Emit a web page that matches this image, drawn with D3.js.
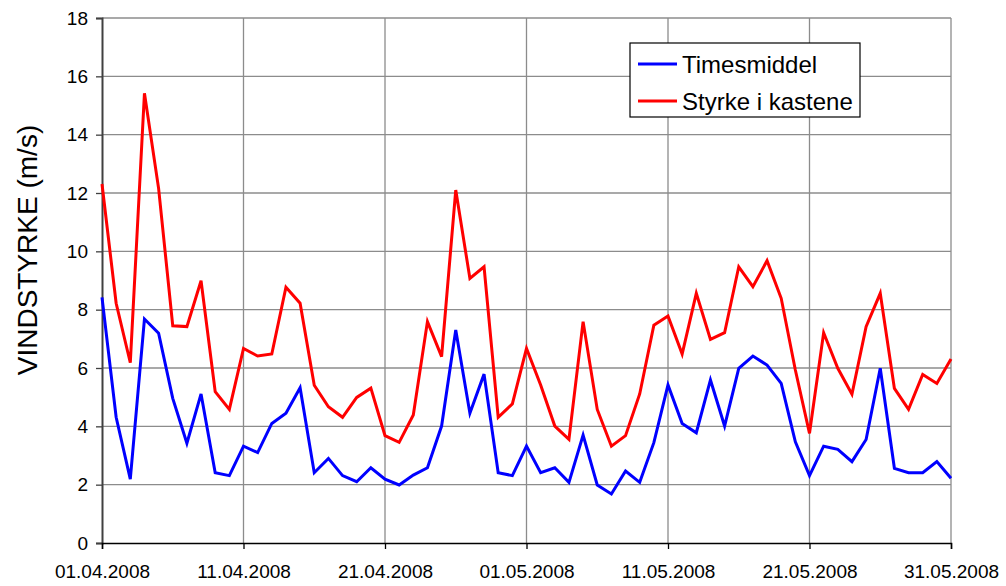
<!DOCTYPE html>
<html>
<head>
<meta charset="utf-8">
<script src="https://cdn.jsdelivr.net/npm/d3@7"></script>
<style>
html,body{margin:0;padding:0;background:#fff;}
svg{display:block;font-family:"Liberation Sans",Arial,sans-serif;}
</style>
</head>
<body>
<svg id="chart" width="1006" height="586"></svg>
<script>
const startDate = "2008-04-01";
const dayCount = 61;
const timesmiddel = [8.42,4.31,2.19,7.68,7.19,4.96,3.42,5.11,2.41,2.31,3.32,3.10,4.10,4.45,5.32,2.41,2.90,2.31,2.10,2.58,2.19,1.99,2.33,2.58,4.01,7.30,4.45,5.79,2.41,2.31,3.32,2.41,2.58,2.08,3.70,1.99,1.68,2.47,2.08,3.44,5.42,4.10,3.78,5.59,4.01,5.99,6.41,6.10,5.47,3.47,2.31,3.32,3.21,2.79,3.55,5.99,2.56,2.41,2.41,2.79,2.22];
const styrke = [12.31,8.22,6.18,15.42,12.16,7.45,7.42,8.99,5.19,4.58,6.67,6.41,6.48,8.77,8.22,5.41,4.67,4.31,4.99,5.31,3.68,3.45,4.39,7.59,6.39,12.10,9.07,9.47,4.31,4.77,6.67,5.42,4.01,3.55,7.59,4.58,3.32,3.68,5.11,7.47,7.78,6.48,8.56,6.98,7.21,9.47,8.79,9.68,8.39,5.93,3.76,7.21,5.99,5.10,7.42,8.56,5.30,4.58,5.78,5.47,6.31];
const seriesNames = ["Timesmiddel","Styrke i kastene"];
const seriesColors = ["#0000ff","#ff0000"];
const yTicks = [0,2,4,6,8,10,12,14,16,18];
const xTickLabels = ["01.04.2008","11.04.2008","21.04.2008","01.05.2008","11.05.2008","21.05.2008","31.05.2008"];

const parse = d3.timeParse("%Y-%m-%d");
const t0 = parse(startDate);
const dates = d3.range(dayCount).map(i => d3.timeDay.offset(t0, i));
const tickDates = xTickLabels.map(s => d3.timeParse("%d.%m.%Y")(s));

const svg = d3.select("#chart");
const m = {left:102, right:1006-951, top:18, bottom:586-543};
const W = 1006, H = 586;
const x = d3.scaleTime().domain([dates[0], dates[dates.length-1]]).range([m.left, W-m.right]);
const y = d3.scaleLinear().domain([0,18]).range([H-m.bottom, m.top]);

// horizontal gridlines
svg.append("g").selectAll("line").data(yTicks.filter(v=>v>0)).join("line")
  .attr("x1", m.left).attr("x2", W-m.right)
  .attr("y1", d=>y(d)).attr("y2", d=>y(d))
  .attr("stroke","#8c8c8c").attr("stroke-width",1.3);
// vertical gridlines
svg.append("g").selectAll("line").data(tickDates.slice(1)).join("line")
  .attr("x1", d=>x(d)).attr("x2", d=>x(d))
  .attr("y1", m.top).attr("y2", H-m.bottom)
  .attr("stroke","#8c8c8c").attr("stroke-width",1.3);

// y axis
const yAxis = svg.append("g").attr("transform",`translate(${m.left},0)`)
  .call(d3.axisLeft(y).tickValues(yTicks).tickSize(6).tickPadding(8));
yAxis.select(".domain").attr("stroke","#404040").attr("stroke-width",2);
yAxis.selectAll(".tick line").attr("stroke","#404040").attr("stroke-width",1.3);
yAxis.selectAll("text").attr("font-size","19px").attr("fill","#000").attr("font-family","Liberation Sans, Arial, sans-serif");

// x axis
const xAxis = svg.append("g").attr("transform",`translate(0,${H-m.bottom})`)
  .call(d3.axisBottom(x).tickValues(tickDates).tickFormat((d,i)=>xTickLabels[i]).tickSize(6));
xAxis.select(".domain").attr("stroke","#000").attr("stroke-width",1.5);
xAxis.selectAll(".tick line").attr("stroke","#000").attr("stroke-width",1.3);
xAxis.selectAll("text").attr("font-size","19px").attr("fill","#000").attr("font-family","Liberation Sans, Arial, sans-serif")
  .attr("y",35).attr("dy",0);

// y title
svg.append("text").attr("transform","translate(37,250) rotate(-90)")
  .attr("text-anchor","middle").attr("font-size","28px").attr("fill","#000")
  .text("VINDSTYRKE (m/s)");

// lines
const line = d3.line().x((d,i)=>x(dates[i])).y(d=>y(d));
[timesmiddel, styrke].forEach((s,k)=>{
  svg.append("path").datum(s).attr("d",line).attr("fill","none")
    .attr("stroke",seriesColors[k]).attr("stroke-width",3).attr("stroke-linejoin","miter");
});

// legend
const lg = svg.append("g").attr("transform","translate(630,43)");
lg.append("rect").attr("width",230).attr("height",74).attr("fill","#fff").attr("stroke","#000").attr("stroke-width",1.2);
seriesNames.forEach((n,i)=>{
  const yy = 21 + i*37;
  lg.append("line").attr("x1",8).attr("x2",47).attr("y1",yy).attr("y2",yy)
    .attr("stroke",seriesColors[i]).attr("stroke-width",3);
  lg.append("text").attr("x",52).attr("y",yy+8.5).attr("font-size","24px").attr("fill","#000").text(n);
});
</script>
</body>
</html>
